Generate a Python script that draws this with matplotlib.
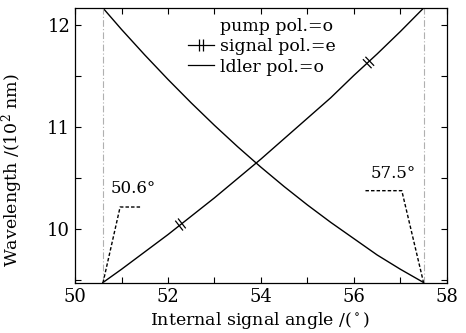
import matplotlib
matplotlib.use('Agg')
import matplotlib.pyplot as plt
from matplotlib.path import Path
from matplotlib.markers import MarkerStyle
from matplotlib.transforms import Affine2D
from matplotlib.lines import Line2D
from matplotlib.ticker import MultipleLocator

plt.rcParams['font.family'] = ['DejaVu Serif']
plt.rcParams['mathtext.fontset'] = 'dejavuserif'

# ===== Data =====
angle = [50.6, 51.0, 51.5, 52.0, 52.5, 53.0, 53.5, 54.0, 54.5, 55.0, 55.5, 56.0, 56.5, 57.0, 57.5]
signal = [9.48, 9.61, 9.78, 9.95, 10.13, 10.31, 10.50, 10.69, 10.89, 11.09, 11.29, 11.51, 11.72, 11.94, 12.17]
idler = [12.17, 11.96, 11.71, 11.47, 11.24, 11.02, 10.81, 10.61, 10.42, 10.24, 10.07, 9.91, 9.75, 9.61, 9.48]
mark_x = [52.25, 56.3]
mark_y = [10.05, 11.64]
mark_rot = [38, 44]
limits = [50.6, 57.5]
labels = ['pump pol.=o', 'signal pol.=e', 'ldler pol.=o']

# double-tick marker (two short parallel bars)
tick_path = Path([(-0.28, -1), (-0.28, 1), (0.28, -1), (0.28, 1)],
                 [Path.MOVETO, Path.LINETO, Path.MOVETO, Path.LINETO])

def tick_marker(rot):
    return MarkerStyle(tick_path, transform=Affine2D().rotate_deg(rot))

fig = plt.figure(figsize=(4.66, 3.33), dpi=100)
ax = fig.add_axes([0.161, 0.150, 0.798, 0.826])

ax.plot(angle, signal, color='black', lw=1.0)
ax.plot(angle, idler, color='black', lw=1.0)
for x, y, r in zip(mark_x, mark_y, mark_rot):
    ax.plot([x], [y], ls='none', marker=tick_marker(r), ms=9, mec='black', mew=0.9)

for v in limits:
    ax.axvline(v, color='#b0b0b0', lw=0.8, ls=(0, (6, 2, 1, 2)))

# angle annotations
dash = dict(color='black', lw=1.0, ls=(0, (2.5, 1.5)))
ax.plot([50.6, 50.97, 51.40], [9.475, 10.22, 10.22], **dash)
ax.plot([57.5, 57.03, 56.24], [9.475, 10.38, 10.38], **dash)
ax.text(51.25, 10.40, '50.6°', ha='center', va='center', fontsize=12)
ax.text(56.85, 10.55, '57.5°', ha='center', va='center', fontsize=12)

ax.set_xlim(50, 58)
ax.set_ylim(9.475, 12.17)
ax.xaxis.set_major_locator(MultipleLocator(2))
ax.xaxis.set_minor_locator(MultipleLocator(1))
ax.yaxis.set_major_locator(MultipleLocator(1))
ax.yaxis.set_minor_locator(MultipleLocator(0.5))
ax.tick_params(which='both', direction='in', top=True, right=True, length=4, width=0.8,
               labelsize=13)
for s in ax.spines.values():
    s.set_linewidth(0.9)

ax.set_xlabel('Internal signal angle /($^\\circ$)', fontsize=12.5)
ax.set_ylabel('Wavelength /(10$^2$ nm)', fontsize=12.5)
ax.xaxis.set_label_coords(0.497, -0.098)
ax.yaxis.set_label_coords(-0.135, 0.41)

handles = [Line2D([], [], color='none'),
           Line2D([], [], color='black', lw=0.9, marker=tick_marker(0), ms=9, mew=0.9),
           Line2D([], [], color='black', lw=0.9)]
ax.legend(handles, labels, loc='upper left', bbox_to_anchor=(0.27, 1.01), frameon=False,
          fontsize=12.5, handlelength=1.5, handletextpad=0.3, labelspacing=0.18, borderpad=0.25)

plt.savefig('out.png', dpi=100)
plt.close()
